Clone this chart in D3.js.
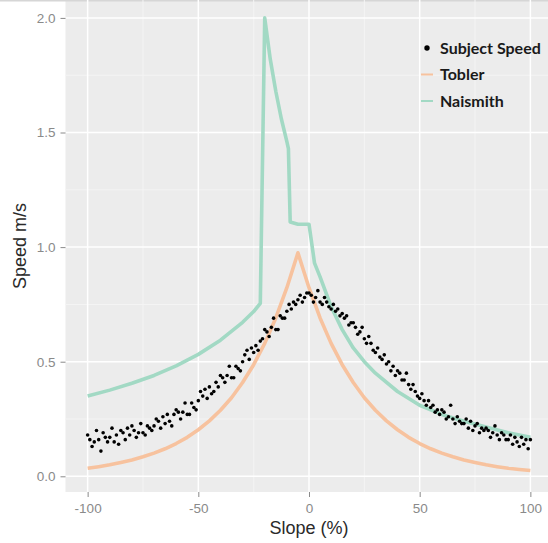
<!DOCTYPE html>
<html>
<head>
<meta charset="utf-8">
<script src="https://cdn.jsdelivr.net/npm/d3@7"></script>
<style>
  html, body { margin: 0; padding: 0; background: #ffffff; }
  svg { display: block; }
</style>
</head>
<body>
<svg id="chart" width="548" height="543"></svg>
<script>
// ---------------- DATA ----------------
const xTicks = [-100, -50, 0, 50, 100];
const xMinor = [-75, -25, 25, 75];
const yTicks = [0, 0.5, 1.0, 1.5, 2.0];
const yMinor = [0.25, 0.75, 1.25, 1.75];
const yTickLabels = ["0.0", "0.5", "1.0", "1.5", "2.0"];
const xTickLabels = ["-100", "-50", "0", "50", "100"];

// Subject speed: one observation per 1 % of slope, from -100 to 100
const subjectSlope = d3.range(-100, 101, 1);
const subjectSpeed = [
  0.18, 0.16, 0.13, 0.15, 0.20, 0.16, 0.11, 0.19, 0.17, 0.15,
  0.17, 0.21, 0.15, 0.18, 0.14, 0.20, 0.19, 0.16, 0.21, 0.18,
  0.22, 0.20, 0.17, 0.19, 0.23, 0.19, 0.18, 0.22, 0.21, 0.20,
  0.22, 0.25, 0.24, 0.21, 0.26, 0.23, 0.27, 0.24, 0.22, 0.27,
  0.29, 0.28, 0.25, 0.28, 0.32, 0.27, 0.27, 0.32, 0.30, 0.29,
  0.33, 0.37, 0.35, 0.38, 0.34, 0.39, 0.36, 0.37, 0.41, 0.39,
  0.44, 0.43, 0.41, 0.44, 0.48, 0.43, 0.43, 0.48, 0.47, 0.46,
  0.50, 0.53, 0.55, 0.51, 0.56, 0.54, 0.57, 0.55, 0.59, 0.60,
  0.64, 0.63, 0.61, 0.65, 0.69, 0.64, 0.64, 0.70, 0.69, 0.69,
  0.72, 0.75, 0.73, 0.76, 0.75, 0.77, 0.79, 0.76, 0.78, 0.80,
  0.80, 0.79, 0.76, 0.78, 0.81, 0.76, 0.75, 0.78, 0.76, 0.74,
  0.73, 0.75, 0.72, 0.73, 0.70, 0.71, 0.69, 0.70, 0.66, 0.67,
  0.67, 0.65, 0.62, 0.63, 0.65, 0.60, 0.58, 0.61, 0.58, 0.55,
  0.54, 0.56, 0.52, 0.51, 0.53, 0.49, 0.50, 0.46, 0.48, 0.44,
  0.46, 0.45, 0.42, 0.42, 0.45, 0.40, 0.38, 0.40, 0.37, 0.35,
  0.34, 0.36, 0.33, 0.31, 0.33, 0.30, 0.31, 0.28, 0.29, 0.27,
  0.29, 0.28, 0.25, 0.26, 0.31, 0.25, 0.23, 0.26, 0.24, 0.23,
  0.23, 0.25, 0.21, 0.24, 0.20, 0.22, 0.23, 0.19, 0.21, 0.20,
  0.21, 0.20, 0.17, 0.19, 0.22, 0.18, 0.16, 0.19, 0.18, 0.16,
  0.16, 0.18, 0.14, 0.17, 0.15, 0.13, 0.17, 0.14, 0.16, 0.12,
  0.16
];

// Tobler curve, read every 5 %
const toblerSlope = d3.range(-100, 101, 5);
const toblerSpeed = [
  0.035, 0.042, 0.050, 0.060, 0.071, 0.085, 0.101, 0.120, 0.143, 0.170,
  0.203, 0.242, 0.288, 0.343, 0.409, 0.487, 0.580, 0.691, 0.823, 0.975,
  0.823, 0.691, 0.580, 0.487, 0.409, 0.343, 0.288, 0.242, 0.203, 0.170,
  0.143, 0.120, 0.101, 0.085, 0.071, 0.060, 0.050, 0.042, 0.035, 0.030,
  0.025
];

// Naismith curve (with descent corrections), read at break points
const naismithSlope = [-100, -90, -80, -70, -60, -50, -40, -30, -25, -22,
  -20, -17.5, -15, -12.5, -10, -9.3, -8.5, -5, 0, 2.5,
  5, 10, 15, 20, 25, 30, 40, 50, 60, 70, 80, 90, 100];
const naismithSpeed = [0.350, 0.376, 0.406, 0.440, 0.482, 0.532, 0.594, 0.672, 0.719, 0.755,
  2.00, 1.82, 1.68, 1.56, 1.46, 1.43, 1.11, 1.10, 1.10, 0.93,
  0.87, 0.74, 0.64, 0.56, 0.50, 0.45, 0.37, 0.31, 0.27, 0.24, 0.215, 0.19, 0.17];

const seriesNames = ["Subject Speed", "Tobler", "Naismith"];
const seriesColors = ["#000000", "#F7C29E", "#A2D9C4"];

// ---------------- DRAW ----------------
const svg = d3.select("#chart");
const panel = { left: 65.5, right: 552.5, top: -5, bottom: 492 };

const x = d3.scaleLinear().domain([-110, 110]).range([panel.left, panel.right]);
const y = d3.scaleLinear().domain([-0.0685, 2.1]).range([panel.bottom, panel.top]);

// panel background
svg.append("rect")
  .attr("x", panel.left).attr("y", panel.top)
  .attr("width", panel.right - panel.left).attr("height", panel.bottom - panel.top)
  .attr("fill", "#ECECEC");

// top thin border (window edge)
svg.append("rect").attr("x", 0).attr("y", 0).attr("width", 548).attr("height", 1.5).attr("fill", "#d6d6d6");

const grid = svg.append("g");
grid.selectAll("line.xminor").data(xMinor).enter().append("line")
  .attr("x1", d => x(d)).attr("x2", d => x(d))
  .attr("y1", panel.top).attr("y2", panel.bottom)
  .attr("stroke", "#F4F4F4").attr("stroke-width", 1);
grid.selectAll("line.yminor").data(yMinor).enter().append("line")
  .attr("y1", d => y(d)).attr("y2", d => y(d))
  .attr("x1", panel.left).attr("x2", panel.right)
  .attr("stroke", "#F4F4F4").attr("stroke-width", 1);
grid.selectAll("line.xmajor").data(xTicks).enter().append("line")
  .attr("x1", d => x(d)).attr("x2", d => x(d))
  .attr("y1", panel.top).attr("y2", panel.bottom)
  .attr("stroke", "#FFFFFF").attr("stroke-width", 1.5);
grid.selectAll("line.ymajor").data(yTicks).enter().append("line")
  .attr("y1", d => y(d)).attr("y2", d => y(d))
  .attr("x1", panel.left).attr("x2", panel.right)
  .attr("stroke", "#FFFFFF").attr("stroke-width", 1.5);

// axes
const xAxis = d3.axisBottom(x).tickValues(xTicks)
  .tickFormat((d, i) => xTickLabels[i]).tickSize(5).tickPadding(6);
const gx = svg.append("g").attr("transform", `translate(0,${panel.bottom})`).call(xAxis);
gx.select(".domain").remove();
gx.selectAll(".tick line").attr("stroke", "#8a8a8a");
gx.selectAll(".tick text").attr("fill", "#8a8a8a")
  .style("font-family", "'Liberation Sans', Arial, sans-serif").style("font-size", "13.5px");

const yAxis = d3.axisLeft(y).tickValues(yTicks)
  .tickFormat((d, i) => yTickLabels[i]).tickSize(5).tickPadding(5);
const gy = svg.append("g").attr("transform", `translate(${panel.left},0)`).call(yAxis);
gy.select(".domain").remove();
gy.selectAll(".tick line").attr("stroke", "#8a8a8a");
gy.selectAll(".tick text").attr("fill", "#8a8a8a")
  .style("font-family", "'Liberation Sans', Arial, sans-serif").style("font-size", "13.5px");

// axis titles
svg.append("text")
  .attr("x", (panel.left + panel.right) / 2).attr("y", 534)
  .attr("text-anchor", "middle")
  .style("font-family", "'Liberation Sans', Arial, sans-serif").style("font-size", "18px")
  .attr("fill", "#2a2a2a")
  .text("Slope (%)");
svg.append("text")
  .attr("transform", `translate(26,${(Math.max(panel.top,0) + panel.bottom) / 2}) rotate(-90)`)
  .attr("text-anchor", "middle")
  .style("font-family", "'Liberation Sans', Arial, sans-serif").style("font-size", "18px")
  .attr("fill", "#2a2a2a")
  .text("Speed m/s");

// clip
svg.append("clipPath").attr("id", "clip").append("rect")
  .attr("x", panel.left).attr("y", panel.top)
  .attr("width", panel.right - panel.left).attr("height", panel.bottom - panel.top);
const plot = svg.append("g").attr("clip-path", "url(#clip)");

const line = d3.line().x(d => x(d[0])).y(d => y(d[1]));

plot.append("path")
  .datum(naismithSlope.map((s, i) => [s, naismithSpeed[i]]))
  .attr("d", line).attr("fill", "none")
  .attr("stroke", seriesColors[2]).attr("stroke-width", 3.6)
  .attr("stroke-linejoin", "round");

plot.append("path")
  .datum(toblerSlope.map((s, i) => [s, toblerSpeed[i]]))
  .attr("d", line).attr("fill", "none")
  .attr("stroke", seriesColors[1]).attr("stroke-width", 3.6)
  .attr("stroke-linejoin", "round");

plot.selectAll("circle.pt")
  .data(subjectSlope.map((s, i) => [s, subjectSpeed[i]]))
  .enter().append("circle")
  .attr("cx", d => x(d[0])).attr("cy", d => y(d[1]))
  .attr("r", 1.8).attr("fill", seriesColors[0]);

// legend
const legend = svg.append("g");
const legY = [48, 74.5, 101];
seriesNames.forEach((name, i) => {
  const g = legend.append("g").attr("transform", `translate(0,${legY[i]})`);
  if (i === 0) {
    g.append("circle").attr("cx", 427).attr("cy", 0).attr("r", 2.7).attr("fill", seriesColors[0]);
  } else {
    g.append("line").attr("x1", 421).attr("x2", 433).attr("y1", 0).attr("y2", 0)
      .attr("stroke", seriesColors[i]).attr("stroke-width", 2);
  }
  g.append("text").attr("x", 440).attr("y", 0).attr("dy", "0.35em")
    .style("font-family", "Lato, 'Open Sans', sans-serif").style("font-weight", "bold")
    .style("font-size", "16px").attr("fill", "#1a1a1a")
    .text(name);
});
</script>
</body>
</html>
